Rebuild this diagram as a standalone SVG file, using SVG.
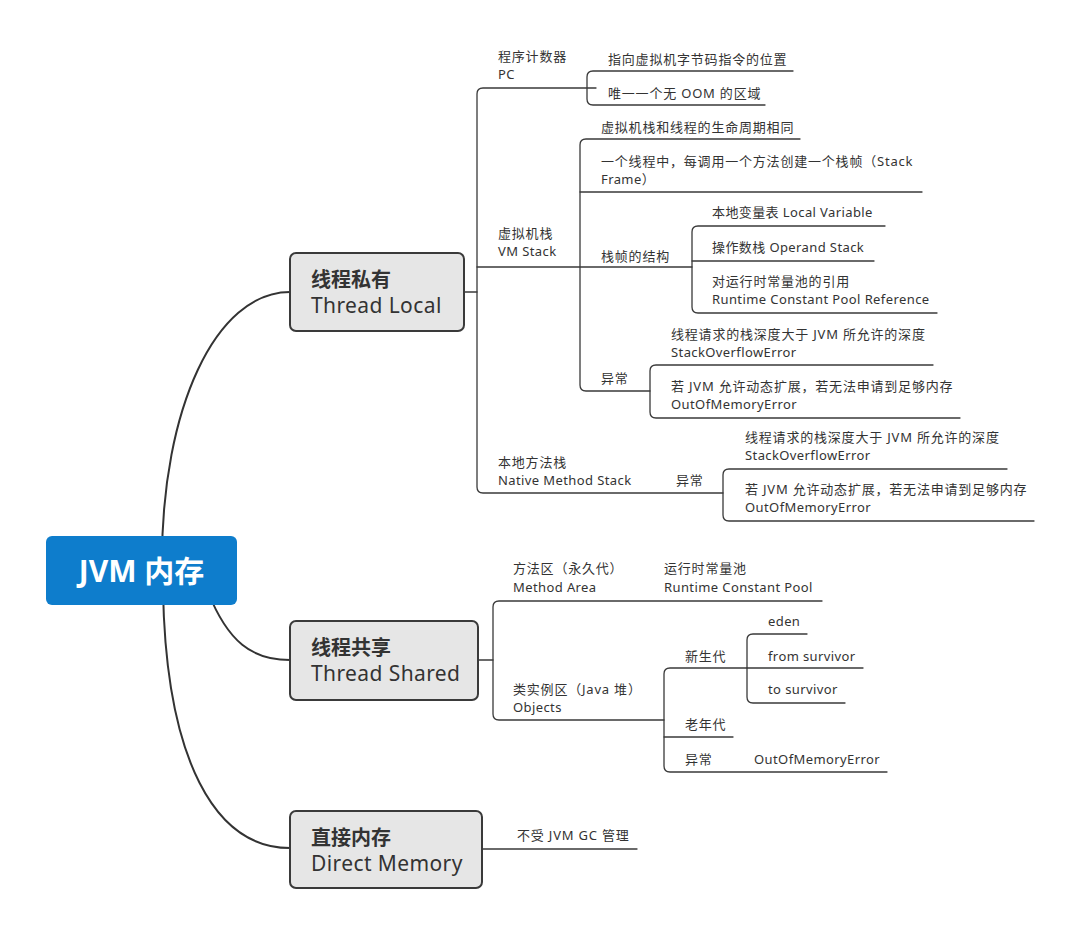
<svg xmlns="http://www.w3.org/2000/svg" width="1080" height="935" viewBox="0 0 1080 935">
<style>
.t{font-family:"Noto Sans","Noto Sans CJK SC",sans-serif;font-size:13px;fill:#333;letter-spacing:0.4px}
.c{letter-spacing:0.8px}
.n{font-family:"Noto Sans","Noto Sans CJK SC",sans-serif;font-size:20px;fill:#333}
.nl{font-size:21px;letter-spacing:0.4px}
.b{font-weight:bold}
.ln{fill:none;stroke:#3a3a3a;stroke-width:1.3;stroke-linecap:round;stroke-linejoin:round}
.mc{fill:none;stroke:#333;stroke-width:2}
.box{fill:#e6e6e6;stroke:#3a3a3a;stroke-width:2}
</style>
<rect width="1080" height="935" fill="#fff"/>
<g id="connectors">
<path class="mc" d="M162 560 C162 410 215 292 290 292"/>
<path class="mc" d="M208 592 C228 642 252 660 290 660"/>
<path class="mc" d="M163 590 C166 760 215 848 290 848"/>
<path class="ln" d="M464 292 H477"/>
<path class="ln" d="M596 88 H483 Q477 88 477 94 V487 Q477 493 483 493 H723"/>
<path class="ln" d="M477 267 H692"/>
<path class="ln" d="M793 71 H593 Q587 71 587 77 V99 Q587 105 593 105 H765"/>
<path class="ln" d="M800 139 H586 Q580 139 580 145 V385 Q580 391 586 391 H650"/>
<path class="ln" d="M580 192 H922"/>
<path class="ln" d="M885 226 H698 Q692 226 692 232 V307 Q692 313 698 313 H937"/>
<path class="ln" d="M692 261 H874"/>
<path class="ln" d="M933 365 H656 Q650 365 650 371 V412 Q650 418 656 418 H960"/>
<path class="ln" d="M1007 469 H729 Q723 469 723 475 V515 Q723 521 729 521 H1034"/>
<path class="ln" d="M478 660 H493"/>
<path class="ln" d="M822 601 H499 Q493 601 493 607 V714 Q493 720 499 720 H664"/>
<path class="ln" d="M747 668 H670 Q664 668 664 674 V766 Q664 772 670 772 H887"/>
<path class="ln" d="M664 737 H733"/>
<path class="ln" d="M807 634 H753 Q747 634 747 640 V697 Q747 703 753 703 H845"/>
<path class="ln" d="M747 668 H863"/>
<path class="ln" d="M482 849 H637"/>
</g>
<g id="root">
<rect x="46" y="536" width="191" height="69" rx="6" fill="#0e7dcc"/>
<text x="141.5" y="582" text-anchor="middle" font-family="Noto Sans,'Noto Sans CJK SC',sans-serif" font-size="30" font-weight="bold" fill="#fff">JVM 内存</text>
</g>
<g id="thread-local">
<rect class="box" x="290" y="253" width="174" height="78" rx="6"/>
<text class="n b" x="311" y="287">线程私有</text>
<text class="n nl" x="311" y="313">Thread Local</text>
</g>
<g id="thread-shared">
<rect class="box" x="290" y="621" width="188" height="79" rx="6"/>
<text class="n b" x="311" y="655">线程共享</text>
<text class="n nl" x="311" y="681">Thread Shared</text>
</g>
<g id="direct-memory">
<rect class="box" x="290" y="811" width="192" height="77" rx="6"/>
<text class="n b" x="311" y="845">直接内存</text>
<text class="n nl" x="311" y="871">Direct Memory</text>
</g>
<g id="pc">
<text class="t c" x="498" y="61">程序计数器</text>
<text class="t" x="498" y="79">PC</text>
</g>
<g id="pc-1"><text class="t c" x="608" y="64">指向虚拟机字节码指令的位置</text></g>
<g id="pc-2"><text class="t c" x="608" y="98">唯一一个无 OOM 的区域</text></g>
<g id="vm-stack">
<text class="t c" x="498" y="238">虚拟机栈</text>
<text class="t" x="498" y="256">VM Stack</text>
</g>
<g id="vm-1"><text class="t c" x="601" y="132">虚拟机栈和线程的生命周期相同</text></g>
<g id="vm-2">
<text class="t c" x="601" y="166">一个线程中，每调用一个方法创建一个栈帧（Stack</text>
<text class="t" x="601" y="184">Frame）</text>
</g>
<g id="frame"><text class="t c" x="601" y="261">栈帧的结构</text></g>
<g id="frame-1"><text class="t" x="712" y="217">本地变量表 Local Variable</text></g>
<g id="frame-2"><text class="t" x="712" y="252">操作数栈 Operand Stack</text></g>
<g id="frame-3">
<text class="t c" x="712" y="286">对运行时常量池的引用</text>
<text class="t" x="712" y="304">Runtime Constant Pool Reference</text>
</g>
<g id="vm-ex"><text class="t c" x="601" y="383">异常</text></g>
<g id="vm-ex-1">
<text class="t c" x="671" y="339">线程请求的栈深度大于 JVM 所允许的深度</text>
<text class="t" x="671" y="357">StackOverflowError</text>
</g>
<g id="vm-ex-2">
<text class="t c" x="671" y="391">若 JVM 允许动态扩展，若无法申请到足够内存</text>
<text class="t" x="671" y="409">OutOfMemoryError</text>
</g>
<g id="native">
<text class="t c" x="498" y="467">本地方法栈</text>
<text class="t" x="498" y="485">Native Method Stack</text>
</g>
<g id="native-ex"><text class="t c" x="676" y="485">异常</text></g>
<g id="native-ex-1">
<text class="t c" x="745" y="442">线程请求的栈深度大于 JVM 所允许的深度</text>
<text class="t" x="745" y="460">StackOverflowError</text>
</g>
<g id="native-ex-2">
<text class="t c" x="745" y="494">若 JVM 允许动态扩展，若无法申请到足够内存</text>
<text class="t" x="745" y="512">OutOfMemoryError</text>
</g>
<g id="method-area">
<text class="t c" x="513" y="573">方法区（永久代）</text>
<text class="t" x="513" y="592">Method Area</text>
</g>
<g id="rcp">
<text class="t c" x="664" y="573">运行时常量池</text>
<text class="t" x="664" y="592">Runtime Constant Pool</text>
</g>
<g id="objects">
<text class="t c" x="513" y="694">类实例区（Java 堆）</text>
<text class="t" x="513" y="712">Objects</text>
</g>
<g id="young"><text class="t c" x="685" y="661">新生代</text></g>
<g id="eden"><text class="t" x="768" y="626">eden</text></g>
<g id="from"><text class="t" x="768" y="661">from survivor</text></g>
<g id="to"><text class="t" x="768" y="694">to survivor</text></g>
<g id="old"><text class="t c" x="685" y="729">老年代</text></g>
<g id="heap-ex"><text class="t c" x="685" y="764">异常</text></g>
<g id="heap-oom"><text class="t" x="754" y="764">OutOfMemoryError</text></g>
<g id="direct-1"><text class="t c" x="517" y="840">不受 JVM GC 管理</text></g>
</svg>
